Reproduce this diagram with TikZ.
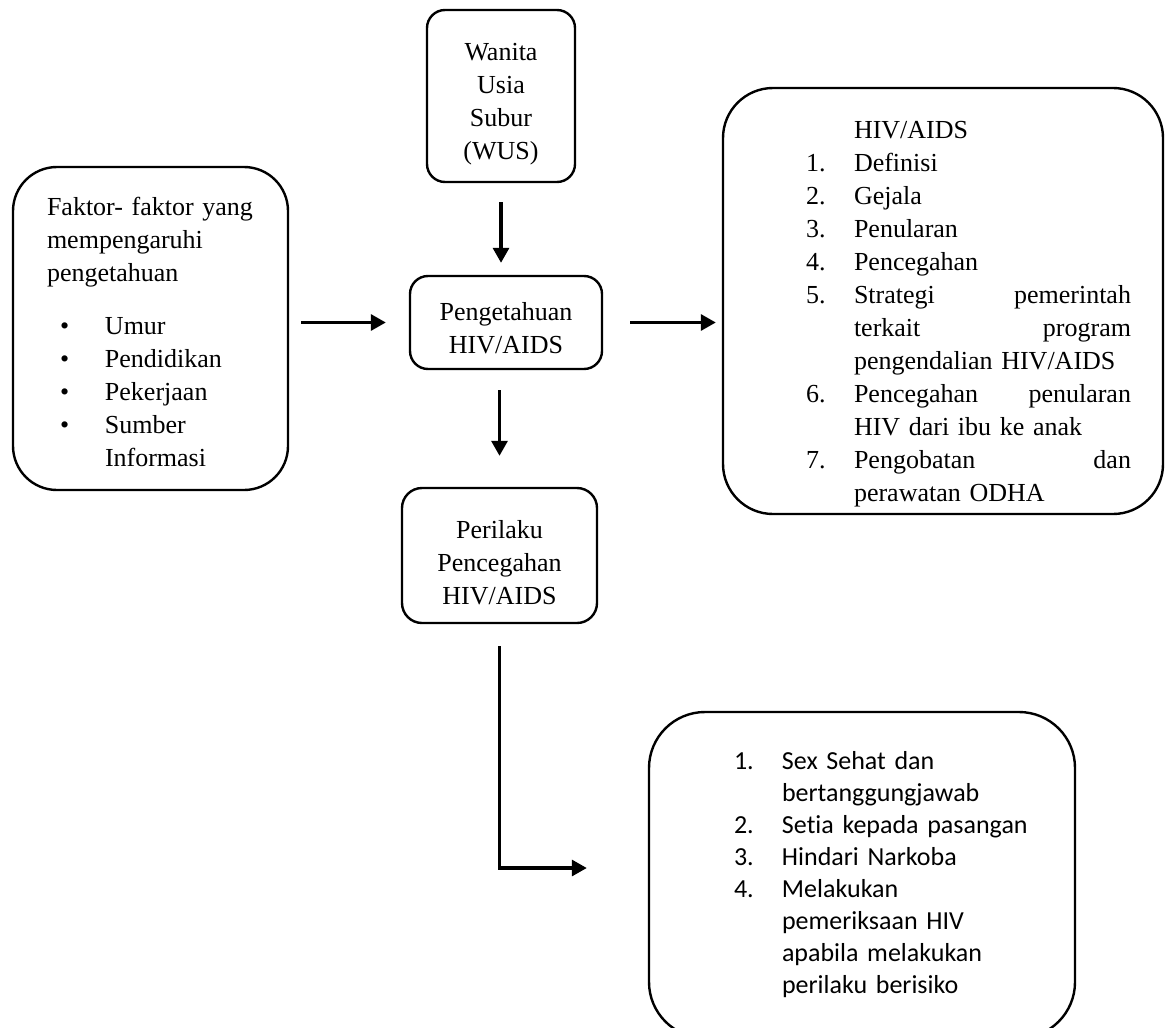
\documentclass[tikz,border=0pt]{standalone}
\usepackage{fontspec}
\setmainfont{Liberation Serif}
\newfontfamily\calibrifont[Ligatures=NoCommon]{Carlito}
\usetikzlibrary{arrows.meta,positioning}
\definecolor{ink}{HTML}{000000}
\newcommand\txtsize{\fontsize{13}{16.5}\selectfont}
\newcommand\nr[1]{\makebox[24pt][l]{#1}}
\newcommand\indt{\hspace*{24pt}}
\newcommand\jline[2]{\makebox[138.5pt][l]{#1\hfill #2}}
\tikzset{
  box/.style={draw=ink,line width=1.2pt,fill=white,align=center,font=\txtsize,inner sep=0pt},
  lbox/.style={box,align=left},
  arr/.style={-{Triangle[length=7.5pt,width=8pt]},line width=1.6pt,color=ink}}

\begin{document}
\begin{tikzpicture}[x=0.5pt,y=-0.5pt]
\useasboundingbox (0,0) rectangle (1170,1027);
% faktor
\node[lbox,rounded corners=22pt,minimum width=137.5pt,minimum height=161.5pt,text width=103.5pt] (fk) at (150.5,328.5)
  {\rule{0pt}{13pt}Faktor- faktor yang\\ mempengaruhi\\ pengetahuan\\[10pt]
   \hspace*{6.5pt}\makebox[22.5pt][l]{\textbullet}Umur\\
   \hspace*{6.5pt}\makebox[22.5pt][l]{\textbullet}Pendidikan\\
   \hspace*{6.5pt}\makebox[22.5pt][l]{\textbullet}Pekerjaan\\
   \hspace*{6.5pt}\makebox[22.5pt][l]{\textbullet}Sumber\\
   \hspace*{29pt}Informasi\par};
% tengah
\node[box,rounded corners=9pt,minimum width=74pt,minimum height=86pt] (wus) at (501,96) {\rule{0pt}{17pt}Wanita\\ Usia\\ Subur\\ (WUS)};
\node[box,rounded corners=9pt,minimum width=96pt,minimum height=46.5pt] (pk) at (506,322.5) {\rule{0pt}{14.5pt}Pengetahuan\\ HIV/AIDS};
\node[box,rounded corners=10pt,minimum width=97.5pt,minimum height=67.5pt] (pl) at (499.5,555.5) {\rule{0pt}{16pt}Perilaku\\ Pencegahan\\ HIV/AIDS};
% materi
\node[lbox,rounded corners=25pt,minimum width=220pt,minimum height=213pt,text width=190pt] (rb) at (943,301)
  {\leftskip=26.5pt\relax
   \indt\rule{0pt}{22pt}HIV/AIDS\\
   \nr{1.}Definisi\\
   \nr{2.}Gejala\\
   \nr{3.}Penularan\\
   \nr{4.}Pencegahan\\
   \nr{5.}\jline{Strategi}{pemerintah}\\
   \indt\jline{terkait}{program}\\
   \indt pengendalian HIV/AIDS\\
   \nr{6.}\jline{Pencegahan}{penularan}\\
   \indt HIV dari ibu ke anak\\
   \nr{7.}\jline{Pengobatan}{dan}\\
   \indt perawatan ODHA\par};
% perilaku
\node[lbox,font=\calibrifont\fontsize{13}{16}\selectfont,rounded corners=28pt,minimum width=213pt,minimum height=163pt,text width=190pt] (bt) at (862,875)
  {\leftskip=31pt\relax
   \nr{1.}Sex Sehat dan\\
   \indt bertanggungjawab\\
   \nr{2.}Setia kepada pasangan\\
   \nr{3.}Hindari Narkoba\\
   \nr{4.}Melakukan\\
   \indt pemeriksaan HIV\\
   \indt apabila melakukan\\
   \indt perilaku berisiko\par};
\draw[arr,shorten <=6pt,shorten >=11.5pt] (fk.east |- pk.west) -- (pk.west);
\draw[arr,shorten <=9.5pt,shorten >=6pt] (wus.south) -- (wus.south |- pk.north);
\draw[arr,shorten <=10pt,shorten >=15.5pt] (pl.north |- pk.south) -- (pl.north);
\draw[arr,shorten <=13.5pt,shorten >=3pt] (pk.east) -- (pk.east -| rb.west);
\draw[arr,shorten <=11pt,shorten >=30.5pt] (pl.south) |- ([yshift=3.5pt]bt.west);
\end{tikzpicture}
\end{document}
